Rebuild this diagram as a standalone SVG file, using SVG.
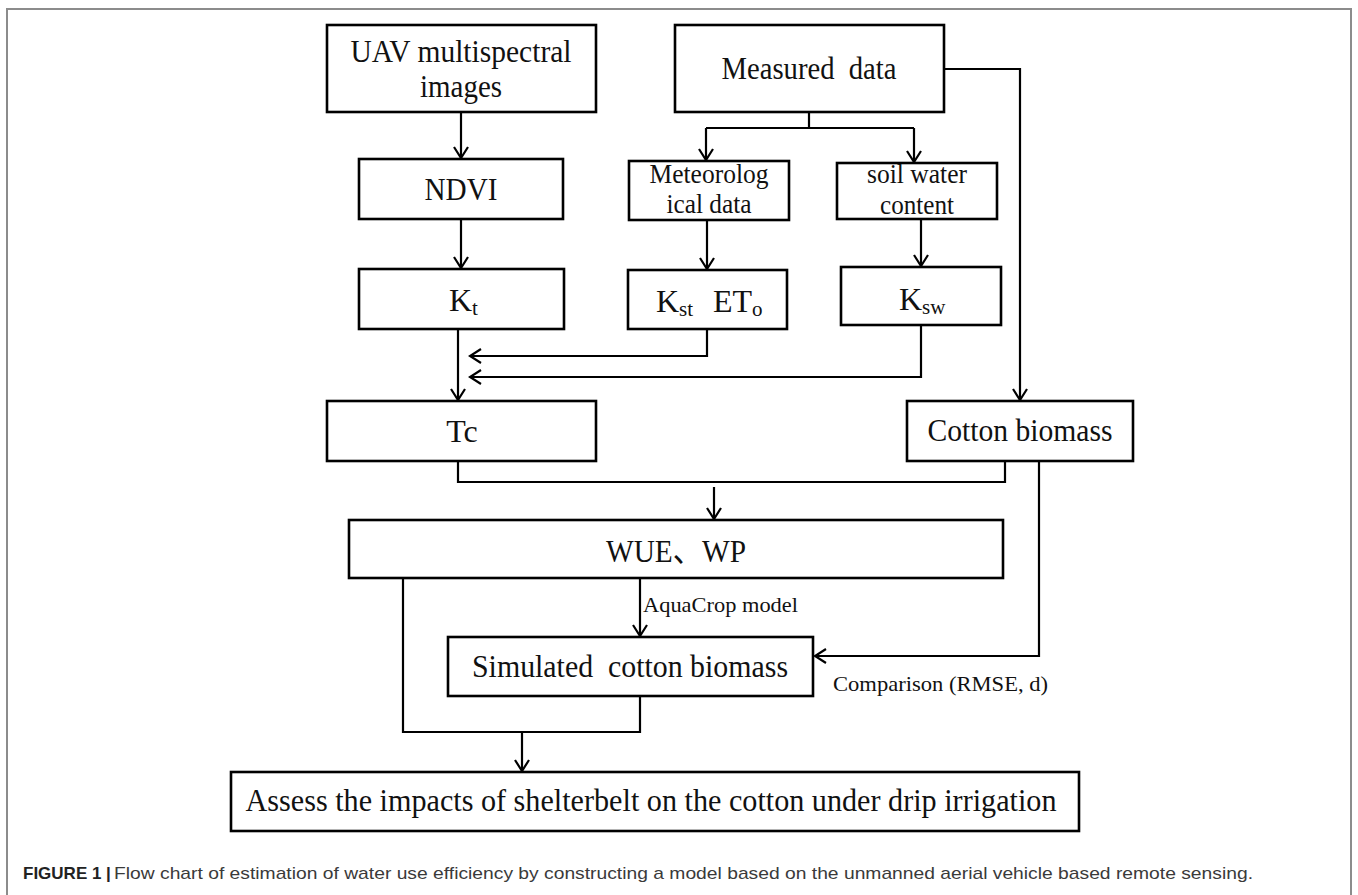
<svg xmlns="http://www.w3.org/2000/svg" width="1358" height="895" viewBox="0 0 1358 895">
<style>
.box{fill:#fff;stroke:#000;stroke-width:2.6}
.ln{fill:none;stroke:#000;stroke-width:2.2}
.t{font-family:"Liberation Serif","Noto Sans CJK SC",serif;font-size:32px;fill:#111}
.m{font-size:27px}
.s{font-size:21px}
.lab{font-family:"Liberation Serif",serif;font-size:22px;fill:#111}
.cap{font-family:"Liberation Sans",Arial,sans-serif;font-size:17px}
</style>
<defs>
<marker id="ah" viewBox="-13 -9 15 18" refX="0" refY="0" markerWidth="15" markerHeight="18" markerUnits="userSpaceOnUse" orient="auto">
<path d="M-11,-7 L0,0 L-11,7" fill="none" stroke="#000" stroke-width="2.2"/>
</marker>
</defs>
<rect width="1358" height="895" fill="#fff"/>
<rect x="7" y="9" width="1344" height="900" fill="none" stroke="#8c8c8c" stroke-width="2"/>

<g id="connectors">
<path class="ln" d="M461,112 V158" marker-end="url(#ah)"/>
<path class="ln" d="M461,219 V268" marker-end="url(#ah)"/>
<path class="ln" d="M809,112 V128"/>
<path class="ln" d="M706,128 H914"/>
<path class="ln" d="M706,128 V160" marker-end="url(#ah)"/>
<path class="ln" d="M914,128 V162" marker-end="url(#ah)"/>
<path class="ln" d="M707,220 V269" marker-end="url(#ah)"/>
<path class="ln" d="M921,219 V266" marker-end="url(#ah)"/>
<path class="ln" d="M944,69 H1020 V400" marker-end="url(#ah)"/>
<path class="ln" d="M458,329 V400" marker-end="url(#ah)"/>
<path class="ln" d="M707,329 V356 H470" marker-end="url(#ah)"/>
<path class="ln" d="M921,325 V377 H470" marker-end="url(#ah)"/>
<path class="ln" d="M458,461 V482 H1005 V461"/>
<path class="ln" d="M714,487 V519" marker-end="url(#ah)"/>
<path class="ln" d="M1039,461 V656 H815" marker-end="url(#ah)"/>
<path class="ln" d="M640,578 V636" marker-end="url(#ah)"/>
<path class="ln" d="M403,578 V732 H640 V696"/>
<path class="ln" d="M522,732 V771" marker-end="url(#ah)"/>
<text class="lab" x="643" y="612" textLength="155" lengthAdjust="spacingAndGlyphs">AquaCrop model</text>
<text class="lab" x="833" y="691" textLength="215" lengthAdjust="spacingAndGlyphs">Comparison (RMSE, d)</text>
</g>

<g id="uav">
<rect class="box" x="327" y="25" width="269" height="87"/>
<text class="t" x="461" y="62" text-anchor="middle" textLength="221" lengthAdjust="spacingAndGlyphs">UAV multispectral</text>
<text class="t" x="461" y="97" text-anchor="middle" textLength="82" lengthAdjust="spacingAndGlyphs">images</text>
</g>
<g id="measured">
<rect class="box" x="675" y="25" width="269" height="87"/>
<text class="t" x="809" y="79" text-anchor="middle" textLength="175" lengthAdjust="spacingAndGlyphs" xml:space="preserve">Measured  data</text>
</g>
<g id="ndvi">
<rect class="box" x="359" y="159" width="204" height="60"/>
<text class="t" x="461" y="200" text-anchor="middle" textLength="73" lengthAdjust="spacingAndGlyphs">NDVI</text>
</g>
<g id="meteo">
<rect class="box" x="629" y="161" width="160" height="59"/>
<text class="t m" x="709" y="183" text-anchor="middle" textLength="119" lengthAdjust="spacingAndGlyphs">Meteorolog</text>
<text class="t m" x="709" y="213" text-anchor="middle" textLength="85" lengthAdjust="spacingAndGlyphs">ical data</text>
</g>
<g id="soil">
<rect class="box" x="837" y="163" width="160" height="56"/>
<text class="t m" x="917" y="183" text-anchor="middle" textLength="100" lengthAdjust="spacingAndGlyphs">soil water</text>
<text class="t m" x="917" y="214" text-anchor="middle" textLength="74" lengthAdjust="spacingAndGlyphs">content</text>
</g>
<g id="kt">
<rect class="box" x="359" y="269" width="205" height="60"/>
<text class="t" x="449" y="311">K<tspan class="s" dy="4">t</tspan></text>
</g>
<g id="kst-eto">
<rect class="box" x="628" y="270" width="159" height="59"/>
<text class="t" x="656" y="312">K<tspan class="s" dy="4">st</tspan><tspan x="713" dy="-4">ET</tspan><tspan class="s" dy="4">o</tspan></text>
</g>
<g id="ksw">
<rect class="box" x="841" y="267" width="160" height="58"/>
<text class="t" x="899" y="310">K<tspan class="s" dy="4">sw</tspan></text>
</g>
<g id="tc">
<rect class="box" x="327" y="401" width="269" height="60"/>
<text class="t" x="462" y="442" text-anchor="middle">Tc</text>
</g>
<g id="cotton">
<rect class="box" x="907" y="401" width="226" height="60"/>
<text class="t" x="1020" y="441" text-anchor="middle" textLength="185" lengthAdjust="spacingAndGlyphs">Cotton biomass</text>
</g>
<g id="wue">
<rect class="box" x="349" y="520" width="654" height="58"/>
<text class="t" x="676" y="562" text-anchor="middle" textLength="140" lengthAdjust="spacingAndGlyphs">WUE、WP</text>
</g>
<g id="simulated">
<rect class="box" x="448" y="637" width="365" height="59"/>
<text class="t" x="630" y="677" text-anchor="middle" textLength="316" lengthAdjust="spacingAndGlyphs" xml:space="preserve">Simulated  cotton biomass</text>
</g>
<g id="assess">
<rect class="box" x="231" y="772" width="848" height="59"/>
<text class="t" x="651" y="811" text-anchor="middle" textLength="811" lengthAdjust="spacingAndGlyphs">Assess the impacts of shelterbelt on the cotton under drip irrigation</text>
</g>

<g id="caption">
<text class="cap" x="23" y="879" font-weight="bold" fill="#222" font-size="16">FIGURE 1 |</text>
<text class="cap" x="114" y="879" fill="#3a3a3a" textLength="1139" lengthAdjust="spacingAndGlyphs">Flow chart of estimation of water use efficiency by constructing a model based on the unmanned aerial vehicle based remote sensing.</text>
</g>
</svg>
